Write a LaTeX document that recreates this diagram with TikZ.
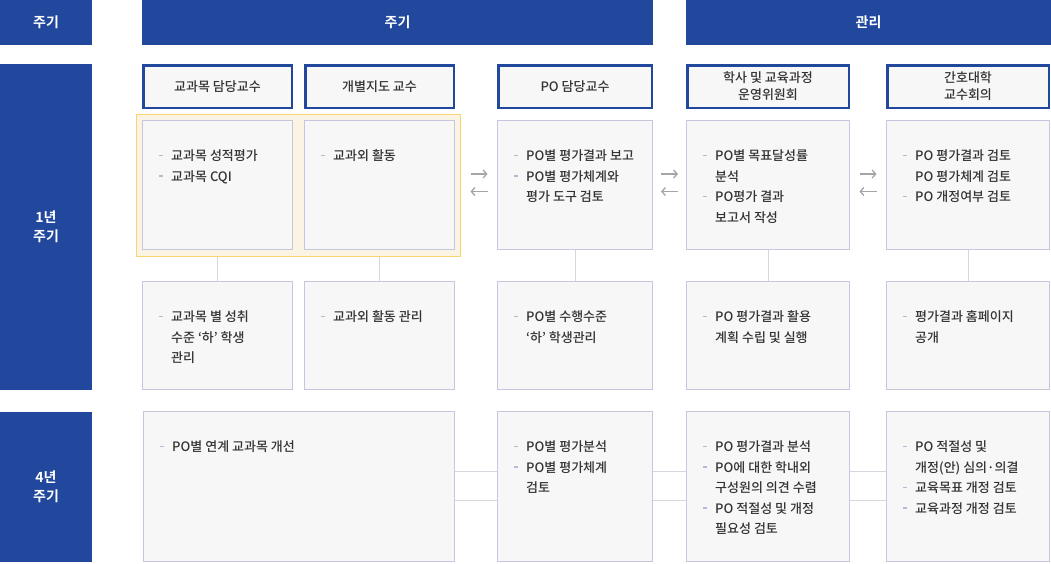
\documentclass[tikz,border=0pt]{standalone}
\usepackage{fontspec}
\setmainfont{Noto Sans CJK KR}[UprightFont={* Medium}, BoldFont={* Bold}]
\usepackage{xcolor}
\usepackage{tikz}
\usetikzlibrary{positioning}
\usetikzlibrary{arrows,arrows.meta,calc}

\definecolor{hdblue}{RGB}{34,72,158}
\definecolor{boxfill}{RGB}{247,247,247}
\definecolor{boxline}{RGB}{200,198,222}
\definecolor{hlline}{RGB}{250,212,110}
\definecolor{hlfill}{RGB}{251,243,227}
\definecolor{txtc}{RGB}{51,51,51}
\definecolor{dashc}{RGB}{184,184,214}
\definecolor{connc}{RGB}{214,214,222}
\definecolor{arrc}{RGB}{165,165,165}

\newcommand{\dsh}{\makebox[12pt][l]{\textcolor{dashc}{\rule[4.5pt]{4pt}{1.2pt}}}}
\newcommand{\ind}{\hspace*{12pt}}

\tikzset{
  hd/.style={fill=hdblue, text=white, font=\fontsize{14}{19}\selectfont\bfseries, align=center, inner sep=0pt},
  role/.style={draw=hdblue, line width=2.5pt, fill=boxfill, text=txtc, font=\fontsize{13}{17}\selectfont, align=center, inner sep=0pt},
  cell/.style={draw=boxline, line width=1pt, fill=boxfill, inner sep=0pt},
  hlbox/.style={draw=hlline, line width=1pt, fill=hlfill, inner sep=0pt},
  items/.style={anchor=north west, align=left, text=txtc, font=\fontsize{13}{20.5}\selectfont, inner sep=0pt},
  conn/.style={draw=connc, line width=1pt},
  garrow/.style={draw=arrc, line width=1.3pt, -{Straight Barb[length=3.5pt,width=8pt]}},
}

\begin{document}
\begin{tikzpicture}[x=1pt, y=-1pt]
  \useasboundingbox (0,0) rectangle (1051,563);

  % headers
  \node[hd, minimum width=92pt, minimum height=45pt] (hleft) at (46,22.5) {주기};
  \node[hd, minimum width=511pt, minimum height=45pt] (hcyc) at (397.5,22.5) {주기};
  \node[hd, minimum width=365pt, minimum height=45pt] (hman) at (868.5,22.5) {관리};
  \node[hd, minimum width=92pt, minimum height=326pt] (y1) at (46,227) {1년\\주기};
  \node[hd, minimum width=92pt, minimum height=150pt] (y4) at (46,487) {4년\\주기};

  % role boxes
  \foreach \n/\xa/\xb/\t in {r1/142/293/{교과목 담당교수}, r2/304/455/{개별지도 교수}, r3/497/653/{PO 담당교수},
      r4/686/850/{학사 및 교육과정\\운영위원회}, r5/886/1050/{간호대학\\교수회의}} {
    \node[role, minimum width=\xb pt-\xa pt-2.5pt, minimum height=42.5pt] (\n) at ({(\xa+\xb)/2},86.5) {\t};
  }

  % highlight
  \node[hlbox, minimum width=324pt, minimum height=142pt] (hl) at (298.5,185.5) {};

  % level 1 upper
  \foreach \n/\xa/\xb/\t in {a1/142/293/{\dsh 교과목 성적평가\\\dsh 교과목 CQI}, a2/304/455/{\dsh 교과외 활동},
      a3/497/653/{\dsh PO별 평가결과 보고\\\dsh PO별 평가체계와\\\ind 평가 도구 검토},
      a4/686/850/{\dsh PO별 목표달성률\\\ind 분석\\\dsh PO평가 결과\\\ind 보고서 작성},
      a5/886/1050/{\dsh PO 평가결과 검토\\\ind PO 평가체계 검토\\\dsh PO 개정여부 검토}} {
    \node[cell, minimum width=\xb pt-\xa pt-1pt, minimum height=129pt] (\n) at ({(\xa+\xb)/2},185) {};
    \node[items] (\n t) at ([xshift=17pt,yshift=-29.5pt]\n.north west) {\t};
  }

  % level 1 lower
  \foreach \n/\xa/\xb/\t in {b1/142/293/{\dsh 교과목 별 성취\\\ind 수준 ‘하’ 학생\\\ind 관리}, b2/304/455/{\dsh 교과외 활동 관리},
      b3/497/653/{\dsh PO별 수행수준\\\ind ‘하’ 학생관리},
      b4/686/850/{\dsh PO 평가결과 활용\\\ind 계획 수립 및 실행},
      b5/886/1050/{\dsh 평가결과 홈페이지\\\ind 공개}} {
    \node[cell, minimum width=\xb pt-\xa pt-1pt, minimum height=108pt] (\n) at ({(\xa+\xb)/2},335.5) {};
    \node[items] (\n t) at ([xshift=17pt,yshift=-29.5pt]\n.north west) {\t};
  }

  % level 2
  \foreach \n/\xa/\xb/\t in {c1/143/455/{\dsh PO별 연계 교과목 개선},
      c3/497/653/{\dsh PO별 평가분석\\\dsh PO별 평가체계\\\ind 검토},
      c4/686/850/{\dsh PO 평가결과 분석\\\dsh PO에 대한 학내외\\\ind 구성원의 의견 수렴\\\dsh PO 적절성 및 개정\\\ind 필요성 검토},
      c5/886/1050/{\dsh PO 적절성 및\\\ind 개정(안) 심의·의결\\\dsh 교육목표 개정 검토\\\dsh 교육과정 개정 검토}} {
    \node[cell, minimum width=\xb pt-\xa pt-1pt, minimum height=150pt] (\n) at ({(\xa+\xb)/2},486.5) {};
    \node[items] (\n t) at ([xshift=17pt,yshift=-29.5pt]\n.north west) {\t};
  }

  % lines
  \draw[conn] (b1.north) -- (b1.north |- hl.south);
  \draw[conn] (b2.north) -- (b2.north |- hl.south);
  \foreach \s/\d in {a3/b3, a4/b4, a5/b5}
    \draw[conn] (\s.south) -- (\d.north);

  \foreach \s/\d in {c1/c3, c3/c4, c4/c5} {
    \draw[conn] ([yshift=15pt]\s.east) -- ([yshift=15pt]\d.west);
    \draw[conn] ([yshift=-14pt]\s.east) -- ([yshift=-14pt]\d.west);
  }

  % arrows
  \foreach \s/\d in {hl/a3, a3/a4, a4/a5} {
    \coordinate (m) at ($(\s.east |- a3.center)!0.5!(\d.west |- a3.center)$);
    \draw[garrow] ([xshift=-8.5pt,yshift=11pt]m) -- ([xshift=8.5pt,yshift=11pt]m);
    \draw[garrow] ([xshift=8.5pt,yshift=-6.5pt]m) -- ([xshift=-8.5pt,yshift=-6.5pt]m);
  }

\end{tikzpicture}
\end{document}
